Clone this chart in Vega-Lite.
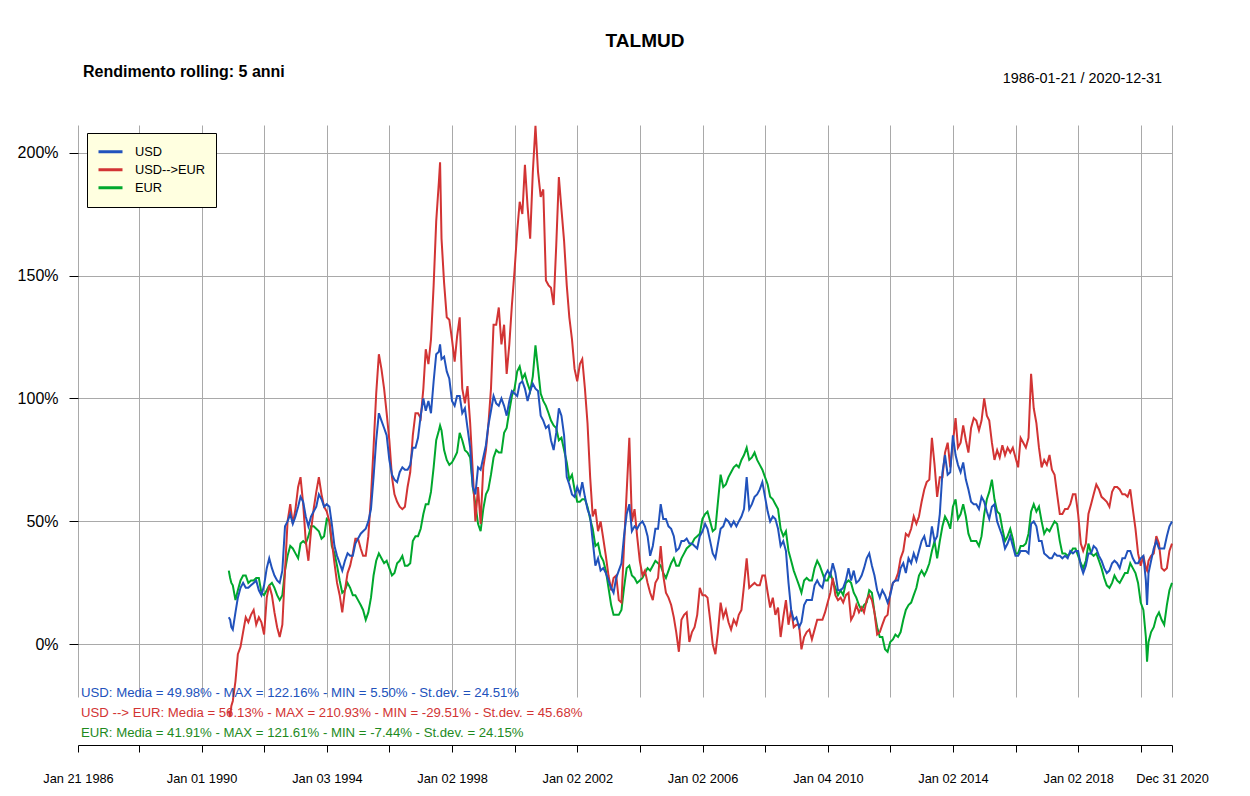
{
  "$schema": "https://vega.github.io/schema/vega-lite/v6.json",
  "width": 1094,
  "height": 572,
  "autosize": {"type": "none"},
  "padding": {"left": 78, "top": 125, "right": 78, "bottom": 99},
  "background": "white",
  "title": {"text": "TALMUD", "anchor": "middle", "frame": "group", "dx": 20, "offset": 13, "fontSize": 19, "fontWeight": "bold", "color": "black"},
  "config": {"view": {"stroke": null}, "font": "Liberation Sans"},
  "datasets": {
    "rolling": [
      {"data":"1990-11-15","USD":11,"USD-->EUR":-27,"EUR":30},
      {"data":"1990-12-01","USD":10,"USD-->EUR":-29.5,"EUR":27},
      {"data":"1990-12-15","USD":7,"USD-->EUR":-25,"EUR":25},
      {"data":"1991-01-01","USD":6,"USD-->EUR":-23,"EUR":24},
      {"data":"1991-02-01","USD":13,"USD-->EUR":-15,"EUR":18},
      {"data":"1991-03-01","USD":19,"USD-->EUR":-4,"EUR":22},
      {"data":"1991-04-01","USD":23,"USD-->EUR":-1,"EUR":26},
      {"data":"1991-05-01","USD":25,"USD-->EUR":5,"EUR":28},
      {"data":"1991-06-01","USD":23,"USD-->EUR":11,"EUR":28},
      {"data":"1991-07-01","USD":23,"USD-->EUR":9,"EUR":25},
      {"data":"1991-08-01","USD":24,"USD-->EUR":12,"EUR":26},
      {"data":"1991-09-01","USD":25,"USD-->EUR":14,"EUR":26},
      {"data":"1991-10-01","USD":26,"USD-->EUR":8,"EUR":27},
      {"data":"1991-11-01","USD":22,"USD-->EUR":11,"EUR":27},
      {"data":"1991-12-01","USD":20,"USD-->EUR":9,"EUR":21},
      {"data":"1992-01-01","USD":24,"USD-->EUR":4,"EUR":20},
      {"data":"1992-02-01","USD":31,"USD-->EUR":19,"EUR":22},
      {"data":"1992-03-01","USD":35,"USD-->EUR":24,"EUR":24},
      {"data":"1992-04-01","USD":31,"USD-->EUR":20,"EUR":25},
      {"data":"1992-05-01","USD":28,"USD-->EUR":13,"EUR":23},
      {"data":"1992-06-01","USD":26,"USD-->EUR":7,"EUR":20},
      {"data":"1992-07-01","USD":25,"USD-->EUR":3,"EUR":18},
      {"data":"1992-08-01","USD":30,"USD-->EUR":8,"EUR":20},
      {"data":"1992-09-01","USD":48,"USD-->EUR":30,"EUR":30},
      {"data":"1992-10-01","USD":50,"USD-->EUR":50,"EUR":36},
      {"data":"1992-11-01","USD":53,"USD-->EUR":57,"EUR":40},
      {"data":"1992-12-01","USD":49,"USD-->EUR":49,"EUR":39},
      {"data":"1993-01-01","USD":52,"USD-->EUR":55,"EUR":37},
      {"data":"1993-02-01","USD":56,"USD-->EUR":64,"EUR":35},
      {"data":"1993-03-01","USD":60,"USD-->EUR":68,"EUR":41},
      {"data":"1993-04-01","USD":58,"USD-->EUR":57,"EUR":42},
      {"data":"1993-05-01","USD":52,"USD-->EUR":42,"EUR":41},
      {"data":"1993-06-01","USD":48,"USD-->EUR":34,"EUR":44},
      {"data":"1993-07-01","USD":52,"USD-->EUR":46,"EUR":48},
      {"data":"1993-08-01","USD":54,"USD-->EUR":55,"EUR":48},
      {"data":"1993-09-01","USD":56,"USD-->EUR":62,"EUR":47},
      {"data":"1993-10-01","USD":61,"USD-->EUR":68,"EUR":46},
      {"data":"1993-11-01","USD":59,"USD-->EUR":61,"EUR":43},
      {"data":"1993-12-01","USD":56,"USD-->EUR":56,"EUR":44},
      {"data":"1994-01-01","USD":57,"USD-->EUR":54,"EUR":51},
      {"data":"1994-02-01","USD":56,"USD-->EUR":50,"EUR":50},
      {"data":"1994-03-01","USD":49,"USD-->EUR":42,"EUR":40},
      {"data":"1994-04-01","USD":40,"USD-->EUR":33,"EUR":37},
      {"data":"1994-05-01","USD":36,"USD-->EUR":25,"EUR":32},
      {"data":"1994-06-01","USD":33,"USD-->EUR":20,"EUR":26},
      {"data":"1994-07-01","USD":30,"USD-->EUR":13,"EUR":21},
      {"data":"1994-08-01","USD":34,"USD-->EUR":22,"EUR":22},
      {"data":"1994-09-01","USD":37,"USD-->EUR":29,"EUR":25},
      {"data":"1994-10-01","USD":36,"USD-->EUR":32,"EUR":23},
      {"data":"1994-11-01","USD":36,"USD-->EUR":37,"EUR":20},
      {"data":"1994-12-01","USD":41,"USD-->EUR":43,"EUR":20},
      {"data":"1995-01-01","USD":43,"USD-->EUR":43,"EUR":18},
      {"data":"1995-02-01","USD":45,"USD-->EUR":39,"EUR":16},
      {"data":"1995-03-01","USD":46,"USD-->EUR":36,"EUR":14},
      {"data":"1995-04-01","USD":47,"USD-->EUR":36,"EUR":10},
      {"data":"1995-05-01","USD":50,"USD-->EUR":44,"EUR":13},
      {"data":"1995-06-01","USD":55,"USD-->EUR":60,"EUR":19},
      {"data":"1995-07-01","USD":68,"USD-->EUR":80,"EUR":28},
      {"data":"1995-08-01","USD":83,"USD-->EUR":102,"EUR":34},
      {"data":"1995-09-01","USD":94,"USD-->EUR":118,"EUR":37},
      {"data":"1995-10-01","USD":91,"USD-->EUR":112,"EUR":35},
      {"data":"1995-11-01","USD":88,"USD-->EUR":104,"EUR":33},
      {"data":"1995-12-01","USD":85,"USD-->EUR":94,"EUR":34},
      {"data":"1996-01-01","USD":75,"USD-->EUR":83,"EUR":31},
      {"data":"1996-02-01","USD":69,"USD-->EUR":68,"EUR":28},
      {"data":"1996-03-01","USD":67,"USD-->EUR":61,"EUR":29},
      {"data":"1996-04-01","USD":66,"USD-->EUR":58,"EUR":33},
      {"data":"1996-05-01","USD":70,"USD-->EUR":56,"EUR":34},
      {"data":"1996-06-01","USD":72,"USD-->EUR":55,"EUR":36},
      {"data":"1996-07-01","USD":71,"USD-->EUR":56,"EUR":32},
      {"data":"1996-08-01","USD":71,"USD-->EUR":64,"EUR":32},
      {"data":"1996-09-01","USD":73,"USD-->EUR":70,"EUR":33},
      {"data":"1996-10-01","USD":80,"USD-->EUR":85,"EUR":42},
      {"data":"1996-11-01","USD":80,"USD-->EUR":94,"EUR":44},
      {"data":"1996-12-01","USD":84,"USD-->EUR":94,"EUR":44},
      {"data":"1997-01-01","USD":93,"USD-->EUR":92,"EUR":47},
      {"data":"1997-02-01","USD":100,"USD-->EUR":104,"EUR":53},
      {"data":"1997-03-01","USD":95,"USD-->EUR":120,"EUR":57},
      {"data":"1997-04-01","USD":99,"USD-->EUR":114,"EUR":57},
      {"data":"1997-05-01","USD":94,"USD-->EUR":124,"EUR":62},
      {"data":"1997-06-01","USD":107,"USD-->EUR":146,"EUR":72},
      {"data":"1997-07-01","USD":118,"USD-->EUR":172,"EUR":83},
      {"data":"1997-08-01","USD":119,"USD-->EUR":188,"EUR":87},
      {"data":"1997-08-15","USD":122,"USD-->EUR":196,"EUR":89},
      {"data":"1997-09-01","USD":116,"USD-->EUR":165,"EUR":87},
      {"data":"1997-10-01","USD":117,"USD-->EUR":147,"EUR":79},
      {"data":"1997-11-01","USD":111,"USD-->EUR":133,"EUR":75},
      {"data":"1997-12-01","USD":108,"USD-->EUR":132,"EUR":73},
      {"data":"1998-01-01","USD":99,"USD-->EUR":124,"EUR":74},
      {"data":"1998-02-01","USD":97,"USD-->EUR":115,"EUR":76},
      {"data":"1998-03-01","USD":101,"USD-->EUR":125,"EUR":78},
      {"data":"1998-04-01","USD":101,"USD-->EUR":133,"EUR":86},
      {"data":"1998-05-01","USD":94,"USD-->EUR":104,"EUR":83},
      {"data":"1998-06-01","USD":96,"USD-->EUR":98,"EUR":79},
      {"data":"1998-07-01","USD":88,"USD-->EUR":105,"EUR":78},
      {"data":"1998-08-01","USD":80,"USD-->EUR":90,"EUR":76},
      {"data":"1998-09-01","USD":64,"USD-->EUR":70,"EUR":64},
      {"data":"1998-10-01","USD":61,"USD-->EUR":50,"EUR":57},
      {"data":"1998-11-01","USD":72,"USD-->EUR":64,"EUR":49},
      {"data":"1998-12-01","USD":71,"USD-->EUR":49,"EUR":46},
      {"data":"1999-01-01","USD":76,"USD-->EUR":72,"EUR":55},
      {"data":"1999-02-01","USD":81,"USD-->EUR":79,"EUR":61},
      {"data":"1999-03-01","USD":89,"USD-->EUR":89,"EUR":63},
      {"data":"1999-04-01","USD":95,"USD-->EUR":104,"EUR":69},
      {"data":"1999-05-01","USD":101,"USD-->EUR":130,"EUR":76},
      {"data":"1999-06-01","USD":98,"USD-->EUR":130,"EUR":79},
      {"data":"1999-07-01","USD":97,"USD-->EUR":137,"EUR":78},
      {"data":"1999-08-01","USD":100,"USD-->EUR":122,"EUR":78},
      {"data":"1999-09-01","USD":97,"USD-->EUR":130,"EUR":86},
      {"data":"1999-10-01","USD":93,"USD-->EUR":110,"EUR":88},
      {"data":"1999-11-01","USD":99,"USD-->EUR":122,"EUR":95},
      {"data":"1999-12-01","USD":103,"USD-->EUR":138,"EUR":101},
      {"data":"2000-01-01","USD":102,"USD-->EUR":152,"EUR":104},
      {"data":"2000-02-01","USD":101,"USD-->EUR":168,"EUR":111},
      {"data":"2000-03-01","USD":106,"USD-->EUR":180,"EUR":113},
      {"data":"2000-04-01","USD":107,"USD-->EUR":175,"EUR":108},
      {"data":"2000-05-01","USD":104,"USD-->EUR":195,"EUR":110},
      {"data":"2000-06-01","USD":99,"USD-->EUR":178,"EUR":106},
      {"data":"2000-07-01","USD":103,"USD-->EUR":165,"EUR":103},
      {"data":"2000-08-01","USD":106,"USD-->EUR":192,"EUR":109},
      {"data":"2000-09-01","USD":104,"USD-->EUR":210.9,"EUR":121.6},
      {"data":"2000-10-01","USD":103,"USD-->EUR":192,"EUR":112},
      {"data":"2000-11-01","USD":93,"USD-->EUR":182,"EUR":102},
      {"data":"2000-12-01","USD":91,"USD-->EUR":185,"EUR":99},
      {"data":"2001-01-01","USD":88,"USD-->EUR":148,"EUR":97},
      {"data":"2001-02-01","USD":89,"USD-->EUR":146,"EUR":94},
      {"data":"2001-03-01","USD":83,"USD-->EUR":145,"EUR":91},
      {"data":"2001-04-01","USD":79,"USD-->EUR":138,"EUR":89},
      {"data":"2001-05-01","USD":86,"USD-->EUR":162,"EUR":88},
      {"data":"2001-06-01","USD":96,"USD-->EUR":190,"EUR":83},
      {"data":"2001-07-01","USD":93,"USD-->EUR":177,"EUR":84},
      {"data":"2001-08-01","USD":85,"USD-->EUR":164,"EUR":79},
      {"data":"2001-09-01","USD":68,"USD-->EUR":146,"EUR":74},
      {"data":"2001-10-01","USD":65,"USD-->EUR":133,"EUR":67},
      {"data":"2001-11-01","USD":61,"USD-->EUR":124,"EUR":69},
      {"data":"2001-12-01","USD":60,"USD-->EUR":112,"EUR":63},
      {"data":"2002-01-01","USD":64,"USD-->EUR":107,"EUR":58},
      {"data":"2002-02-01","USD":61,"USD-->EUR":114,"EUR":58},
      {"data":"2002-03-01","USD":66,"USD-->EUR":116,"EUR":59},
      {"data":"2002-04-01","USD":60,"USD-->EUR":104,"EUR":59},
      {"data":"2002-05-01","USD":55,"USD-->EUR":90,"EUR":56},
      {"data":"2002-06-01","USD":52,"USD-->EUR":68,"EUR":51},
      {"data":"2002-07-01","USD":42,"USD-->EUR":52,"EUR":47},
      {"data":"2002-08-01","USD":32,"USD-->EUR":55,"EUR":40},
      {"data":"2002-09-01","USD":35,"USD-->EUR":46,"EUR":41},
      {"data":"2002-10-01","USD":30,"USD-->EUR":50,"EUR":36},
      {"data":"2002-11-01","USD":31,"USD-->EUR":43,"EUR":34},
      {"data":"2002-12-01","USD":29,"USD-->EUR":36,"EUR":30},
      {"data":"2003-01-01","USD":26,"USD-->EUR":28,"EUR":23},
      {"data":"2003-02-01","USD":23,"USD-->EUR":22,"EUR":16},
      {"data":"2003-03-01","USD":21,"USD-->EUR":27,"EUR":12},
      {"data":"2003-04-01","USD":27,"USD-->EUR":28,"EUR":12},
      {"data":"2003-05-01","USD":30,"USD-->EUR":18,"EUR":12},
      {"data":"2003-06-01","USD":33,"USD-->EUR":17,"EUR":14},
      {"data":"2003-07-01","USD":44,"USD-->EUR":40,"EUR":23},
      {"data":"2003-08-01","USD":53,"USD-->EUR":62,"EUR":31},
      {"data":"2003-09-01","USD":57,"USD-->EUR":84,"EUR":32},
      {"data":"2003-10-01","USD":46,"USD-->EUR":50,"EUR":28},
      {"data":"2003-11-01","USD":48,"USD-->EUR":55,"EUR":27},
      {"data":"2003-12-01","USD":47,"USD-->EUR":44,"EUR":25},
      {"data":"2004-01-01","USD":49,"USD-->EUR":34,"EUR":26},
      {"data":"2004-02-01","USD":50,"USD-->EUR":28,"EUR":27},
      {"data":"2004-03-01","USD":48,"USD-->EUR":30,"EUR":29},
      {"data":"2004-04-01","USD":44,"USD-->EUR":25,"EUR":31},
      {"data":"2004-05-01","USD":36,"USD-->EUR":21,"EUR":30},
      {"data":"2004-06-01","USD":40,"USD-->EUR":18,"EUR":32},
      {"data":"2004-07-01","USD":47,"USD-->EUR":25,"EUR":34},
      {"data":"2004-08-01","USD":47,"USD-->EUR":27,"EUR":33},
      {"data":"2004-09-01","USD":57,"USD-->EUR":40,"EUR":32},
      {"data":"2004-10-01","USD":51,"USD-->EUR":28,"EUR":29},
      {"data":"2004-11-01","USD":51,"USD-->EUR":21,"EUR":27},
      {"data":"2004-12-01","USD":48,"USD-->EUR":19,"EUR":30},
      {"data":"2005-01-01","USD":47,"USD-->EUR":16,"EUR":33},
      {"data":"2005-02-01","USD":44,"USD-->EUR":11,"EUR":35},
      {"data":"2005-03-01","USD":38,"USD-->EUR":5,"EUR":32},
      {"data":"2005-04-01","USD":39,"USD-->EUR":-3,"EUR":32},
      {"data":"2005-05-01","USD":42,"USD-->EUR":10,"EUR":35},
      {"data":"2005-06-01","USD":42,"USD-->EUR":12,"EUR":37},
      {"data":"2005-07-01","USD":43,"USD-->EUR":13,"EUR":39},
      {"data":"2005-08-01","USD":41,"USD-->EUR":1,"EUR":40},
      {"data":"2005-09-01","USD":41,"USD-->EUR":5,"EUR":41},
      {"data":"2005-10-01","USD":40,"USD-->EUR":7,"EUR":43},
      {"data":"2005-11-01","USD":39,"USD-->EUR":12,"EUR":44},
      {"data":"2005-12-01","USD":44,"USD-->EUR":23,"EUR":45},
      {"data":"2006-01-01","USD":46,"USD-->EUR":20,"EUR":51},
      {"data":"2006-02-01","USD":49,"USD-->EUR":20,"EUR":53},
      {"data":"2006-03-01","USD":47,"USD-->EUR":19,"EUR":54},
      {"data":"2006-04-01","USD":42,"USD-->EUR":10,"EUR":50},
      {"data":"2006-05-01","USD":37,"USD-->EUR":0,"EUR":46},
      {"data":"2006-06-01","USD":35,"USD-->EUR":-4,"EUR":47},
      {"data":"2006-07-01","USD":41,"USD-->EUR":5,"EUR":58},
      {"data":"2006-08-01","USD":47,"USD-->EUR":17,"EUR":69},
      {"data":"2006-09-01","USD":48,"USD-->EUR":11,"EUR":64},
      {"data":"2006-10-01","USD":51,"USD-->EUR":14,"EUR":65},
      {"data":"2006-11-01","USD":50,"USD-->EUR":9,"EUR":68},
      {"data":"2006-12-01","USD":48,"USD-->EUR":6,"EUR":70},
      {"data":"2007-01-01","USD":50,"USD-->EUR":10,"EUR":72},
      {"data":"2007-02-01","USD":48,"USD-->EUR":8,"EUR":73},
      {"data":"2007-03-01","USD":50,"USD-->EUR":12,"EUR":72},
      {"data":"2007-04-01","USD":52,"USD-->EUR":14,"EUR":75},
      {"data":"2007-05-01","USD":55,"USD-->EUR":24,"EUR":77},
      {"data":"2007-06-01","USD":68,"USD-->EUR":35,"EUR":80},
      {"data":"2007-07-01","USD":55,"USD-->EUR":23,"EUR":75},
      {"data":"2007-08-01","USD":57,"USD-->EUR":24,"EUR":76},
      {"data":"2007-09-01","USD":60,"USD-->EUR":25,"EUR":78},
      {"data":"2007-10-01","USD":61,"USD-->EUR":24,"EUR":75},
      {"data":"2007-11-01","USD":63,"USD-->EUR":24,"EUR":73},
      {"data":"2007-12-01","USD":66,"USD-->EUR":28,"EUR":71},
      {"data":"2008-01-01","USD":60,"USD-->EUR":28,"EUR":68},
      {"data":"2008-02-01","USD":54,"USD-->EUR":21,"EUR":65},
      {"data":"2008-03-01","USD":50,"USD-->EUR":15,"EUR":60},
      {"data":"2008-04-01","USD":52,"USD-->EUR":19,"EUR":59},
      {"data":"2008-05-01","USD":51,"USD-->EUR":12,"EUR":57},
      {"data":"2008-06-01","USD":47,"USD-->EUR":15,"EUR":55},
      {"data":"2008-07-01","USD":40,"USD-->EUR":3,"EUR":47},
      {"data":"2008-08-01","USD":42,"USD-->EUR":11,"EUR":44},
      {"data":"2008-09-01","USD":38,"USD-->EUR":18,"EUR":46},
      {"data":"2008-10-01","USD":25,"USD-->EUR":8,"EUR":38},
      {"data":"2008-11-01","USD":14,"USD-->EUR":14,"EUR":34},
      {"data":"2008-12-01","USD":10,"USD-->EUR":7,"EUR":30},
      {"data":"2009-01-01","USD":11,"USD-->EUR":8,"EUR":27},
      {"data":"2009-02-01","USD":7,"USD-->EUR":8,"EUR":24},
      {"data":"2009-03-01","USD":9,"USD-->EUR":-2,"EUR":21},
      {"data":"2009-04-01","USD":16,"USD-->EUR":3,"EUR":26},
      {"data":"2009-05-01","USD":18,"USD-->EUR":5,"EUR":27},
      {"data":"2009-06-01","USD":18,"USD-->EUR":6,"EUR":26},
      {"data":"2009-07-01","USD":18,"USD-->EUR":2,"EUR":26},
      {"data":"2009-08-01","USD":24,"USD-->EUR":6,"EUR":31},
      {"data":"2009-09-01","USD":26,"USD-->EUR":10,"EUR":34},
      {"data":"2009-10-01","USD":24,"USD-->EUR":10,"EUR":32},
      {"data":"2009-11-01","USD":23,"USD-->EUR":10,"EUR":29},
      {"data":"2009-12-01","USD":28,"USD-->EUR":13,"EUR":26},
      {"data":"2010-01-01","USD":30,"USD-->EUR":17,"EUR":26},
      {"data":"2010-02-01","USD":28,"USD-->EUR":21,"EUR":29},
      {"data":"2010-03-01","USD":33,"USD-->EUR":27,"EUR":26},
      {"data":"2010-04-01","USD":29,"USD-->EUR":20,"EUR":23},
      {"data":"2010-05-01","USD":22,"USD-->EUR":18,"EUR":20},
      {"data":"2010-06-01","USD":22,"USD-->EUR":19,"EUR":22},
      {"data":"2010-07-01","USD":23,"USD-->EUR":17,"EUR":20},
      {"data":"2010-08-01","USD":26,"USD-->EUR":20,"EUR":25},
      {"data":"2010-09-01","USD":31,"USD-->EUR":21,"EUR":26},
      {"data":"2010-10-01","USD":26,"USD-->EUR":10,"EUR":25},
      {"data":"2010-11-01","USD":30,"USD-->EUR":12,"EUR":21},
      {"data":"2010-12-01","USD":25,"USD-->EUR":16,"EUR":19},
      {"data":"2011-01-01","USD":26,"USD-->EUR":13,"EUR":16},
      {"data":"2011-02-01","USD":28,"USD-->EUR":15,"EUR":14},
      {"data":"2011-03-01","USD":31,"USD-->EUR":13,"EUR":16},
      {"data":"2011-04-01","USD":35,"USD-->EUR":18,"EUR":17},
      {"data":"2011-05-01","USD":37,"USD-->EUR":20,"EUR":22},
      {"data":"2011-06-01","USD":32,"USD-->EUR":18,"EUR":21},
      {"data":"2011-07-01","USD":28,"USD-->EUR":13,"EUR":13},
      {"data":"2011-08-01","USD":22,"USD-->EUR":4,"EUR":7},
      {"data":"2011-09-01","USD":19,"USD-->EUR":5,"EUR":3},
      {"data":"2011-10-01","USD":22,"USD-->EUR":8,"EUR":3},
      {"data":"2011-11-01","USD":20,"USD-->EUR":11,"EUR":-2},
      {"data":"2011-12-01","USD":17,"USD-->EUR":12,"EUR":-3},
      {"data":"2012-01-01","USD":20,"USD-->EUR":21,"EUR":1},
      {"data":"2012-02-01","USD":25,"USD-->EUR":25,"EUR":2},
      {"data":"2012-03-01","USD":26,"USD-->EUR":26,"EUR":4},
      {"data":"2012-04-01","USD":26,"USD-->EUR":29,"EUR":3},
      {"data":"2012-05-01","USD":31,"USD-->EUR":35,"EUR":5},
      {"data":"2012-06-01","USD":33,"USD-->EUR":38,"EUR":10},
      {"data":"2012-07-01","USD":29,"USD-->EUR":45,"EUR":14},
      {"data":"2012-08-01","USD":35,"USD-->EUR":44,"EUR":16},
      {"data":"2012-09-01","USD":33,"USD-->EUR":47,"EUR":17},
      {"data":"2012-10-01","USD":37,"USD-->EUR":52,"EUR":20},
      {"data":"2012-11-01","USD":34,"USD-->EUR":49,"EUR":23},
      {"data":"2012-12-01","USD":38,"USD-->EUR":52,"EUR":28},
      {"data":"2013-01-01","USD":42,"USD-->EUR":58,"EUR":30},
      {"data":"2013-02-01","USD":44,"USD-->EUR":63,"EUR":28},
      {"data":"2013-03-01","USD":40,"USD-->EUR":66,"EUR":30},
      {"data":"2013-04-01","USD":40,"USD-->EUR":67,"EUR":33},
      {"data":"2013-05-01","USD":48,"USD-->EUR":84,"EUR":38},
      {"data":"2013-06-01","USD":42,"USD-->EUR":73,"EUR":42},
      {"data":"2013-07-01","USD":44,"USD-->EUR":60,"EUR":35},
      {"data":"2013-08-01","USD":53,"USD-->EUR":68,"EUR":42},
      {"data":"2013-09-01","USD":70,"USD-->EUR":68,"EUR":48},
      {"data":"2013-10-01","USD":77,"USD-->EUR":78,"EUR":52},
      {"data":"2013-11-01","USD":69,"USD-->EUR":82,"EUR":50},
      {"data":"2013-12-01","USD":70,"USD-->EUR":72,"EUR":47},
      {"data":"2014-01-01","USD":85,"USD-->EUR":82,"EUR":56},
      {"data":"2014-02-01","USD":77,"USD-->EUR":92,"EUR":59},
      {"data":"2014-03-01","USD":73,"USD-->EUR":80,"EUR":51},
      {"data":"2014-04-01","USD":70,"USD-->EUR":82,"EUR":53},
      {"data":"2014-05-01","USD":74,"USD-->EUR":89,"EUR":57},
      {"data":"2014-06-01","USD":67,"USD-->EUR":83,"EUR":52},
      {"data":"2014-07-01","USD":63,"USD-->EUR":78,"EUR":45},
      {"data":"2014-08-01","USD":58,"USD-->EUR":88,"EUR":42},
      {"data":"2014-09-01","USD":57,"USD-->EUR":92,"EUR":42},
      {"data":"2014-10-01","USD":57,"USD-->EUR":91,"EUR":42},
      {"data":"2014-11-01","USD":55,"USD-->EUR":87,"EUR":40},
      {"data":"2014-12-01","USD":60,"USD-->EUR":91,"EUR":44},
      {"data":"2015-01-01","USD":58,"USD-->EUR":100,"EUR":53},
      {"data":"2015-02-01","USD":54,"USD-->EUR":93,"EUR":59},
      {"data":"2015-03-01","USD":51,"USD-->EUR":91,"EUR":62},
      {"data":"2015-04-01","USD":56,"USD-->EUR":82,"EUR":67},
      {"data":"2015-05-01","USD":57,"USD-->EUR":75,"EUR":59},
      {"data":"2015-06-01","USD":50,"USD-->EUR":79,"EUR":54},
      {"data":"2015-07-01","USD":47,"USD-->EUR":76,"EUR":53},
      {"data":"2015-08-01","USD":44,"USD-->EUR":81,"EUR":47},
      {"data":"2015-09-01","USD":39,"USD-->EUR":77,"EUR":42},
      {"data":"2015-10-01","USD":41,"USD-->EUR":80,"EUR":44},
      {"data":"2015-11-01","USD":44,"USD-->EUR":78,"EUR":47},
      {"data":"2015-12-01","USD":40,"USD-->EUR":80,"EUR":43},
      {"data":"2016-01-01","USD":36,"USD-->EUR":76,"EUR":37},
      {"data":"2016-02-01","USD":36,"USD-->EUR":72,"EUR":37},
      {"data":"2016-03-01","USD":38,"USD-->EUR":84,"EUR":40},
      {"data":"2016-04-01","USD":38,"USD-->EUR":82,"EUR":40},
      {"data":"2016-05-01","USD":38,"USD-->EUR":80,"EUR":41},
      {"data":"2016-06-01","USD":37,"USD-->EUR":84,"EUR":45},
      {"data":"2016-07-01","USD":49,"USD-->EUR":110,"EUR":54},
      {"data":"2016-08-01","USD":50,"USD-->EUR":96,"EUR":57},
      {"data":"2016-09-01","USD":48,"USD-->EUR":90,"EUR":54},
      {"data":"2016-10-01","USD":42,"USD-->EUR":80,"EUR":56},
      {"data":"2016-11-01","USD":42,"USD-->EUR":72,"EUR":50},
      {"data":"2016-12-01","USD":37,"USD-->EUR":75,"EUR":45},
      {"data":"2017-01-01","USD":36,"USD-->EUR":73,"EUR":47},
      {"data":"2017-02-01","USD":35,"USD-->EUR":77,"EUR":46},
      {"data":"2017-03-01","USD":35,"USD-->EUR":71,"EUR":48},
      {"data":"2017-04-01","USD":37,"USD-->EUR":69,"EUR":50},
      {"data":"2017-05-01","USD":36,"USD-->EUR":61,"EUR":49},
      {"data":"2017-06-01","USD":36,"USD-->EUR":53,"EUR":42},
      {"data":"2017-07-01","USD":35,"USD-->EUR":53,"EUR":37},
      {"data":"2017-08-01","USD":36,"USD-->EUR":55,"EUR":37},
      {"data":"2017-09-01","USD":35,"USD-->EUR":55,"EUR":36},
      {"data":"2017-10-01","USD":38,"USD-->EUR":57,"EUR":37},
      {"data":"2017-11-01","USD":37,"USD-->EUR":61,"EUR":39},
      {"data":"2017-12-01","USD":38,"USD-->EUR":61,"EUR":39},
      {"data":"2018-01-01","USD":38,"USD-->EUR":53,"EUR":36},
      {"data":"2018-02-01","USD":32,"USD-->EUR":41,"EUR":33},
      {"data":"2018-03-01","USD":29,"USD-->EUR":38,"EUR":31},
      {"data":"2018-04-01","USD":32,"USD-->EUR":41,"EUR":34},
      {"data":"2018-05-01","USD":37,"USD-->EUR":53,"EUR":41},
      {"data":"2018-06-01","USD":37,"USD-->EUR":57,"EUR":37},
      {"data":"2018-07-01","USD":40,"USD-->EUR":61,"EUR":36},
      {"data":"2018-08-01","USD":39,"USD-->EUR":65,"EUR":37},
      {"data":"2018-09-01","USD":36,"USD-->EUR":63,"EUR":34},
      {"data":"2018-10-01","USD":34,"USD-->EUR":60,"EUR":31},
      {"data":"2018-11-01","USD":31,"USD-->EUR":59,"EUR":27},
      {"data":"2018-12-01","USD":29,"USD-->EUR":58,"EUR":24},
      {"data":"2019-01-01","USD":30,"USD-->EUR":56,"EUR":23},
      {"data":"2019-02-01","USD":33,"USD-->EUR":62,"EUR":25},
      {"data":"2019-03-01","USD":34,"USD-->EUR":64,"EUR":28},
      {"data":"2019-04-01","USD":33,"USD-->EUR":64,"EUR":26},
      {"data":"2019-05-01","USD":31,"USD-->EUR":63,"EUR":25},
      {"data":"2019-06-01","USD":35,"USD-->EUR":61,"EUR":27},
      {"data":"2019-07-01","USD":35,"USD-->EUR":61,"EUR":29},
      {"data":"2019-08-01","USD":38,"USD-->EUR":60,"EUR":29},
      {"data":"2019-09-01","USD":38,"USD-->EUR":63,"EUR":33},
      {"data":"2019-10-01","USD":35,"USD-->EUR":55,"EUR":31},
      {"data":"2019-11-01","USD":33,"USD-->EUR":47,"EUR":29},
      {"data":"2019-12-01","USD":33,"USD-->EUR":37,"EUR":25},
      {"data":"2020-01-01","USD":35,"USD-->EUR":32,"EUR":17},
      {"data":"2020-02-01","USD":36,"USD-->EUR":36,"EUR":14},
      {"data":"2020-03-01","USD":26,"USD-->EUR":31,"EUR":3},
      {"data":"2020-03-15","USD":16,"USD-->EUR":30,"EUR":-7},
      {"data":"2020-04-01","USD":29,"USD-->EUR":34,"EUR":1},
      {"data":"2020-05-01","USD":34,"USD-->EUR":36,"EUR":5},
      {"data":"2020-06-01","USD":39,"USD-->EUR":37,"EUR":7},
      {"data":"2020-07-01","USD":42,"USD-->EUR":44,"EUR":11},
      {"data":"2020-08-01","USD":39,"USD-->EUR":41,"EUR":13},
      {"data":"2020-09-01","USD":39,"USD-->EUR":31,"EUR":10},
      {"data":"2020-10-01","USD":39,"USD-->EUR":30,"EUR":8},
      {"data":"2020-11-01","USD":44,"USD-->EUR":31,"EUR":16},
      {"data":"2020-12-01","USD":48,"USD-->EUR":38,"EUR":22},
      {"data":"2020-12-31","USD":50,"USD-->EUR":41,"EUR":25}
    ]
  },
  "layer": [
    {
      "data": {"name": "rolling"},
      "transform": [{"fold": ["EUR", "USD-->EUR", "USD"], "as": ["serie", "valore"]}],
      "mark": {"type": "line", "strokeWidth": 2, "clip": false},
      "encoding": {
        "x": {
          "field": "data",
          "type": "temporal",
          "scale": {"type": "utc", "domain": [{"year": 1986, "month": 1, "date": 21, "utc": true}, {"year": 2020, "month": 12, "date": 31, "utc": true}]},
          "axis": {
            "title": null,
            "orient": "bottom",
            "offset": 48,
            "values": [
              {"year": 1986, "month": 1, "date": 21, "utc": true},
              {"year": 1988, "month": 1, "date": 4, "utc": true},
              {"year": 1990, "month": 1, "date": 1, "utc": true},
              {"year": 1992, "month": 1, "date": 2, "utc": true},
              {"year": 1994, "month": 1, "date": 3, "utc": true},
              {"year": 1996, "month": 1, "date": 2, "utc": true},
              {"year": 1998, "month": 1, "date": 2, "utc": true},
              {"year": 2000, "month": 1, "date": 3, "utc": true},
              {"year": 2002, "month": 1, "date": 2, "utc": true},
              {"year": 2004, "month": 1, "date": 2, "utc": true},
              {"year": 2006, "month": 1, "date": 2, "utc": true},
              {"year": 2008, "month": 1, "date": 2, "utc": true},
              {"year": 2010, "month": 1, "date": 4, "utc": true},
              {"year": 2012, "month": 1, "date": 3, "utc": true},
              {"year": 2014, "month": 1, "date": 2, "utc": true},
              {"year": 2016, "month": 1, "date": 4, "utc": true},
              {"year": 2018, "month": 1, "date": 2, "utc": true},
              {"year": 2020, "month": 1, "date": 2, "utc": true},
              {"year": 2020, "month": 12, "date": 31, "utc": true}
            ],
            "labelExpr": "(indexof([1986,1990,1994,1998,2002,2006,2010,2014,2018], utcyear(datum.value)) >= 0 || (utcyear(datum.value) == 2020 && utcmonth(datum.value) == 11)) ? utcFormat(datum.value, '%b %d %Y') : ''",
            "labelFlush": false,
            "labelOverlap": false,
            "labelFontSize": 12.8,
            "labelColor": "black",
            "labelPadding": 20,
            "domainColor": "black",
            "tickColor": "black",
            "tickSize": 7,
            "grid": true,
            "gridColor": "#A9A9A9",
            "gridWidth": 1
          }
        },
        "y": {
          "field": "valore",
          "type": "quantitative",
          "scale": {"domain": [-21.4, 211.2], "nice": false, "zero": false},
          "axis": {
            "title": null,
            "values": [0, 50, 100, 150, 200],
            "labelExpr": "datum.value + '%'",
            "domain": false,
            "tickColor": "black",
            "tickSize": 9,
            "labelFontSize": 16,
            "labelColor": "black",
            "labelPadding": 11,
            "grid": true,
            "gridColor": "#A9A9A9",
            "gridWidth": 1
          }
        },
        "color": {
          "field": "serie",
          "type": "nominal",
          "scale": {"domain": ["USD", "USD-->EUR", "EUR"], "range": ["#2152BC", "#D23434", "#00A82D"]},
          "legend": {
            "title": null,
            "orient": "none",
            "legendX": 9,
            "legendY": 8,
            "fillColor": "#FFFFE0",
            "strokeColor": "black",
            "padding": 10,
            "symbolType": "stroke",
            "symbolSize": 576,
            "symbolStrokeWidth": 3,
            "symbolOffset": 0,
            "labelOffset": 11,
            "labelFontSize": 12.8,
            "labelColor": "black",
            "clipHeight": 17.5,
            "rowPadding": 0
          }
        }
      }
    },
    {
      "mark": {"type": "rule", "color": "black", "strokeWidth": 1},
      "encoding": {
        "x": {"datum": {"year": 1986, "month": 1, "date": 21, "utc": true}},
        "y": {"datum": 0},
        "y2": {"datum": 200}
      }
    },
    {
      "data": {"values": [{"t": "Rendimento rolling: 5 anni"}]},
      "mark": {"type": "text", "align": "left", "baseline": "middle", "dx": 5, "fontSize": 16, "fontWeight": "bold", "color": "black"},
      "encoding": {
        "x": {"datum": {"year": 1986, "month": 1, "date": 21, "utc": true}},
        "y": {"datum": 232.7},
        "text": {"field": "t"}
      }
    },
    {
      "data": {"values": [{"t": "1986-01-21 / 2020-12-31"}]},
      "mark": {"type": "text", "align": "right", "baseline": "middle", "dx": -10, "fontSize": 14.4, "color": "black"},
      "encoding": {
        "x": {"datum": {"year": 2020, "month": 12, "date": 31, "utc": true}},
        "y": {"datum": 229.9},
        "text": {"field": "t"}
      }
    },
    {
      "data": {"values": [{"t": "USD: Media = 49.98% - MAX = 122.16% - MIN = 5.50% - St.dev. = 24.51%"}]},
      "mark": {"type": "text", "align": "left", "baseline": "middle", "dx": 3, "fontSize": 13.2, "color": "#2152BC"},
      "encoding": {
        "x": {"datum": {"year": 1986, "month": 1, "date": 21, "utc": true}},
        "y": {"datum": -19.8},
        "text": {"field": "t"}
      }
    },
    {
      "data": {"values": [{"t": "USD --> EUR: Media  = 56.13% - MAX = 210.93% - MIN = -29.51% - St.dev. = 45.68%"}]},
      "mark": {"type": "text", "align": "left", "baseline": "middle", "dx": 3, "fontSize": 13.2, "color": "#D23434"},
      "encoding": {
        "x": {"datum": {"year": 1986, "month": 1, "date": 21, "utc": true}},
        "y": {"datum": -27.9},
        "text": {"field": "t"}
      }
    },
    {
      "data": {"values": [{"t": "EUR: Media = 41.91% - MAX = 121.61% - MIN = -7.44% - St.dev. = 24.15%"}]},
      "mark": {"type": "text", "align": "left", "baseline": "middle", "dx": 3, "fontSize": 13.2, "color": "#1E8A1E"},
      "encoding": {
        "x": {"datum": {"year": 1986, "month": 1, "date": 21, "utc": true}},
        "y": {"datum": -36.1},
        "text": {"field": "t"}
      }
    }
  ]
}
